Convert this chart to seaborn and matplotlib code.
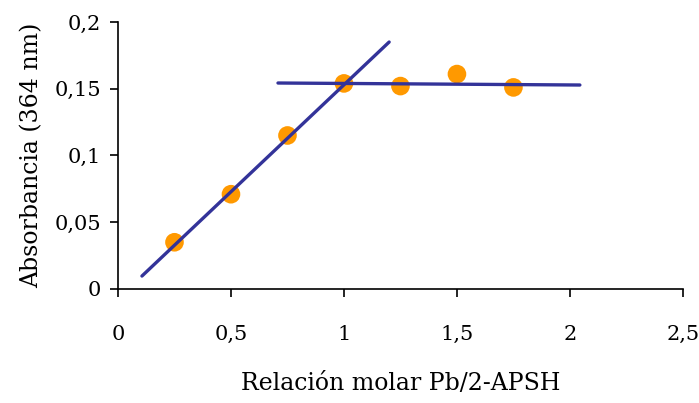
import matplotlib
matplotlib.use("Agg")
import matplotlib.pyplot as plt
import seaborn as sns
from matplotlib.ticker import FuncFormatter

# data
ratio = [0.25, 0.5, 0.75, 1.0, 1.25, 1.5, 1.75]
absorb = [0.035, 0.071, 0.115, 0.154, 0.152, 0.161, 0.151]

# fitted lines (endpoints)
fit1_x = [0.106, 1.2]
fit1_y = [0.0097, 0.185]
fit2_x = [0.708, 2.044]
fit2_y = [0.1543, 0.1528]

sns.set_style("white")
plt.rcParams['font.family'] = ['DejaVu Serif']
plt.rcParams['text.color'] = 'black'
plt.rcParams['axes.labelcolor'] = 'black'
plt.rcParams['xtick.color'] = 'black'
plt.rcParams['ytick.color'] = 'black'

fig = plt.figure(figsize=(6.99, 4.03), dpi=100)
ax = fig.add_axes([0.1688, 0.2829, 0.8082, 0.6625])

sns.lineplot(x=fit1_x, y=fit1_y, ax=ax, color='#333399', lw=2.4)
sns.lineplot(x=fit2_x, y=fit2_y, ax=ax, color='#333399', lw=2.4)
sns.scatterplot(x=ratio, y=absorb, ax=ax, color='#FF9900', s=180,
                edgecolor='none', zorder=1)

ax.set_xlim(0, 2.5)
ax.set_ylim(0, 0.2)
ax.set_xticks([0, 0.5, 1, 1.5, 2, 2.5])
ax.set_yticks([0, 0.05, 0.1, 0.15, 0.2])
comma = FuncFormatter(lambda v, p: f"{v:g}".replace('.', ','))
ax.xaxis.set_major_formatter(comma)
ax.yaxis.set_major_formatter(comma)

for s in ['top', 'right']:
    ax.spines[s].set_visible(False)
for s in ['left', 'bottom']:
    ax.spines[s].set_color('black')
    ax.spines[s].set_linewidth(1.2)

ax.tick_params(axis='x', bottom=True, direction='out', length=6, width=1.2,
               color='black', pad=20, labelsize=15)
ax.tick_params(axis='y', left=True, direction='out', length=6, width=1.2,
               color='black', pad=6, labelsize=15)
ax.set_xlabel('Relación molar Pb/2-APSH', fontsize=17, labelpad=20)
ax.set_ylabel('Absorbancia (364 nm)', fontsize=17, labelpad=8)

plt.savefig('out.png', dpi=100)
